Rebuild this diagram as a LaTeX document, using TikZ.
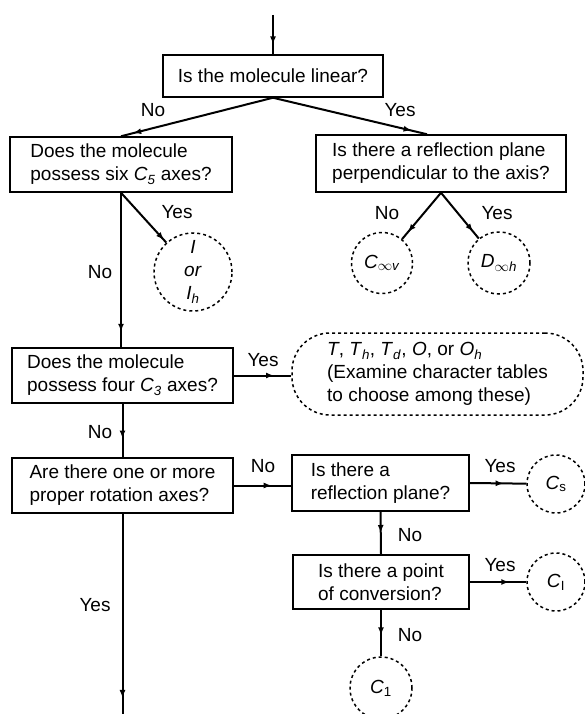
\documentclass[tikz,border=0pt]{standalone}
\usepackage{fontspec}
\setmainfont{Liberation Sans}
\usetikzlibrary{decorations.markings,arrows.meta}
\newcommand{\qfont}{\fontsize{19}{23}\selectfont}
\newcommand{\lowsub}[1]{\textsubscript{#1}}

\begin{document}
\begin{tikzpicture}[x=1pt, y=-1pt,
    qbox/.style={draw, line width=1.5pt, align=left, inner sep=4pt, font=\qfont},
    pgroup/.style={draw, circle, dashed, line width=1.5pt, align=center, inner sep=0pt, font=\qfont},
    lbl/.style={font=\qfont, inner sep=1pt},
    pointer/.style={line width=2pt, postaction={decorate},
        decoration={markings, mark=at position #1 with {\arrow{Latex[length=8pt,width=6pt]}}}},
    pointer/.default=0.8]
    \useasboundingbox (0,0) rectangle (585,714);
    % questions
    \node[qbox, minimum width=220pt, minimum height=42pt] (linear) at (273,76) {Is the molecule linear?};
    \node[qbox, minimum width=222pt, minimum height=55pt] (sixc5) at (121,164.5) {Does the molecule\\possess six \textit{C}\lowsub{\textit{5}} axes?};
    \node[qbox, minimum width=250pt, minimum height=57pt] (perp) at (441,163.5) {Is there a reflection plane\\perpendicular to the axis?};
    \node[qbox, minimum width=221pt, minimum height=55pt] (fourc3) at (122.5,375.5) {Does the molecule\\possess four \textit{C}\lowsub{\textit{3}} axes?};
    \node[qbox, minimum width=221pt, minimum height=55pt] (proper) at (122.5,485.5) {Are there one or more\\proper rotation axes?};
    \node[qbox, minimum width=177pt, minimum height=56pt] (mirror) at (380.5,483) {Is there a\\reflection plane?};
    \node[qbox, minimum width=176pt, minimum height=54pt] (inver) at (381,582) {Is there a point\\of conversion?};
    % point groups
    \node[pgroup, minimum size=78pt] (icos) at (193,272) {\textit{I}\\\textit{or}\\\textit{I}\lowsub{\textit{h}}};
    \node[pgroup, minimum size=61pt] (cinfv) at (382,263) {\textit{C}\lowsub{$\infty$\textit{v}}};
    \node[pgroup, minimum size=62pt] (dinfh) at (499,263) {\textit{D}\lowsub{$\infty$\textit{h}}};
    \node[pgroup, rectangle, rounded corners=38pt, minimum width=291pt, minimum height=82pt, align=left] (cubic) at (437.5,374)
        {\textit{T}, \textit{T}\lowsub{\textit{h}}, \textit{T}\lowsub{\textit{d}}, \textit{O}, or \textit{O}\lowsub{\textit{h}}\\(Examine character tables\\to choose among these)};
    \node[pgroup, minimum size=58pt] (cs) at (556,484) {\textit{C}\lowsub{s}};
    \node[pgroup, minimum size=58pt] (ci) at (556,582) {\textit{C}\lowsub{I}};
    \node[pgroup, minimum size=62pt] (cone) at (381,688) {\textit{C}\lowsub{1}};
    % free ends
    \coordinate (start) at (273,15);
    \coordinate (bottom) at (122.5,714);
    % connectors
    \draw[pointer=0.75] (start) -- (linear);
    \draw[pointer=0.92] (linear.south) -- (sixc5.north);
    \draw[pointer=0.9] (linear.south) -- ([xshift=-14pt]perp.north);
    \draw[pointer=0.85] (perp.south) -- (cinfv);
    \draw[pointer=0.85] (perp.south) -- (dinfh);
    \draw[pointer=0.9] (sixc5.south) -- (sixc5.south |- fourc3.north);
    \draw[pointer=0.95] (sixc5.south) -- (icos);
    \draw[pointer=0.7] (fourc3.east) -- (fourc3.east -| cubic.west);
    \draw[pointer=0.65] (fourc3.south) -- (proper.north);
    \draw[pointer=0.92] (proper.south) -- (bottom);
    \draw[pointer=0.66] (proper.east) -- (proper.east -| mirror.west);
    \draw[pointer=0.6] (mirror.east) -- (cs);
    \draw[pointer=0.5] (mirror.south) -- (inver.north);
    \draw[pointer=0.7] (inver.east) -- (ci);
    \draw[pointer=0.55] (inver.south) -- (cone);
    % answers
    \node[lbl] (no1) at (153,110) {No};
    \node[lbl] (yes1) at (400,110) {Yes};
    \node[lbl] (yes2) at (177,212) {Yes};
    \node[lbl] (no2) at (100,272) {No};
    \node[lbl] (no3) at (387,213) {No};
    \node[lbl] (yes3) at (497,213) {Yes};
    \node[lbl] (yes4) at (263,360) {Yes};
    \node[lbl] (no4) at (100,432) {No};
    \node[lbl] (no5) at (263,466) {No};
    \node[lbl] (yes5) at (500,466) {Yes};
    \node[lbl] (no6) at (410,535) {No};
    \node[lbl] (yes6) at (500,565) {Yes};
    \node[lbl] (no7) at (410,635) {No};
    \node[lbl] (yes7) at (95,605) {Yes};
\end{tikzpicture}
\end{document}
